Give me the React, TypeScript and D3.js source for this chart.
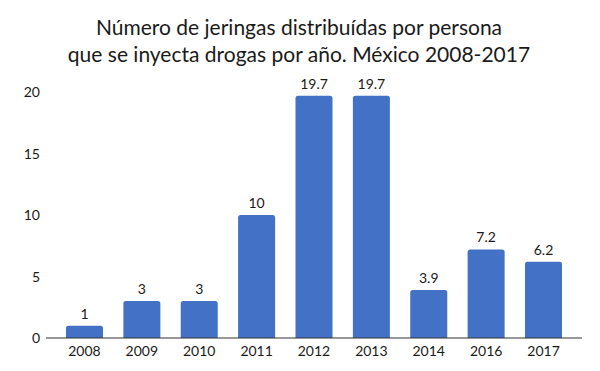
import React from 'react';
import { scaleBand, scaleLinear } from 'd3';

const years = ['2008', '2009', '2010', '2011', '2012', '2013', '2014', '2016', '2017'];
const syringes = [1, 3, 3, 10, 19.7, 19.7, 3.9, 7.2, 6.2];
const valueLabels = ['1', '3', '3', '10', '19.7', '19.7', '3.9', '7.2', '6.2'];
const yTicks = [0, 5, 10, 15, 20];
const titleLines = [
  'Número de jeringas distribuídas por persona',
  'que se inyecta drogas por año. México 2008-2017',
];

const width = 600;
const height = 371;
const font = 'Lato, "Open Sans", sans-serif';

export default function App() {
  const x = scaleBand<string>()
    .domain(years)
    .range([55.8, 572.2])
    .paddingInner(0.355)
    .paddingOuter(0.1775);
  const y = scaleLinear().domain([0, 20]).range([338, 92]);
  const bw = x.bandwidth();

  const barPath = (x0: number, y0: number, w: number, h: number) => {
    const r = Math.min(2.5, h / 2);
    return `M${x0},${y0 + h}V${y0 + r}Q${x0},${y0} ${x0 + r},${y0}H${x0 + w - r}Q${x0 + w},${y0} ${x0 + w},${y0 + r}V${y0 + h}Z`;
  };

  return (
    <svg width={width} height={height} style={{ display: 'block', position: 'absolute', left: 0, top: 0 }}>
      <rect width={width} height={height} fill="#fff" />
      <g fontFamily={font} fill="#1a1a1a">
        {titleLines.map((t, i) => (
          <text key={i} x={299} y={35 + i * 27} textAnchor="middle" fontSize={21}>
            {t}
          </text>
        ))}
      </g>
      <g fontFamily={font} fontSize={14} fill="#1a1a1a">
        {yTicks.map(t => (
          <text key={t} x={40} y={y(t) + 5} textAnchor="end">
            {t}
          </text>
        ))}
      </g>
      <g>
        {syringes.map((v, i) => {
          const x0 = x(years[i]) as number;
          return (
            <path key={years[i]} d={barPath(x0, y(v), bw, y(0) - y(v))} fill="#4271c6" />
          );
        })}
      </g>
      <line x1={46} x2={582} y1={y(0)} y2={y(0)} stroke="#333" strokeWidth={1.2} />
      <g fontFamily={font} fontSize={14} fill="#1a1a1a" textAnchor="middle">
        {syringes.map((v, i) => (
          <text key={years[i]} x={(x(years[i]) as number) + bw / 2} y={y(v) - 7}>
            {valueLabels[i]}
          </text>
        ))}
        {years.map(yr => (
          <text key={yr} x={(x(yr) as number) + bw / 2} y={356}>
            {yr}
          </text>
        ))}
      </g>
    </svg>
  );
}
